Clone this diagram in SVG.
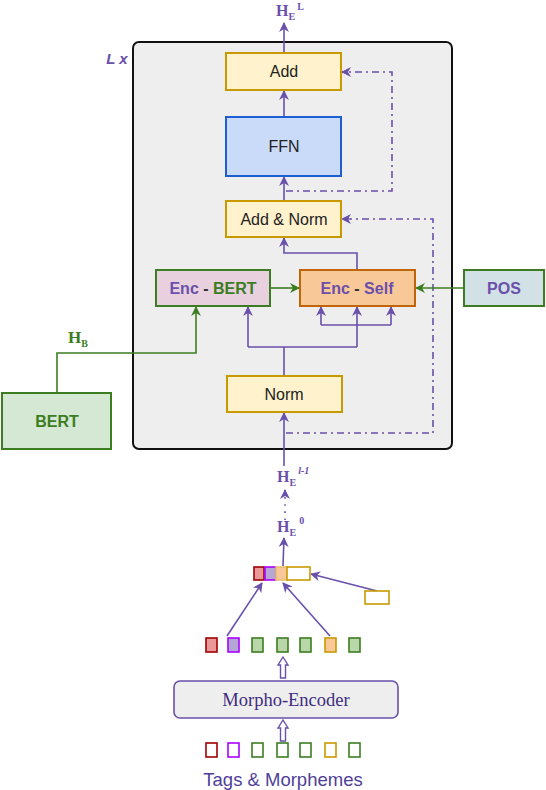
<svg xmlns="http://www.w3.org/2000/svg" width="546" height="790" viewBox="0 0 546 790">
<defs>
<style>
.box{stroke-width:2}
.gold{fill:#fff2cc;stroke:#c89a00}
.lbl{font-family:"Liberation Sans",Arial,sans-serif;font-size:16px;fill:#222;text-anchor:middle}
.bold{font-family:"Liberation Sans",Arial,sans-serif;font-size:16px;font-weight:bold;text-anchor:middle}
.pl{fill:none;stroke:#6a50aa;stroke-width:1.6}
.gl{fill:none;stroke:#3c7d22;stroke-width:1.6}
.dd{fill:none;stroke:#6a50aa;stroke-width:1.6;stroke-dasharray:7 4 2 4}
.hs{font-family:"Liberation Serif","Times New Roman",serif;font-weight:bold;fill:#6a50aa}
.tok{stroke-width:1.6}
.ha{fill:#fff;stroke:#6a50aa;stroke-width:1.4}
</style>
<marker id="ap" viewBox="0 0 10 10" refX="9" refY="5" markerWidth="10" markerHeight="10" markerUnits="userSpaceOnUse" orient="auto">
<path d="M0,0 L10,5 L0,10 L3,5 z" fill="#6a50aa"/>
</marker>
<marker id="ag" viewBox="0 0 10 10" refX="9" refY="5" markerWidth="10" markerHeight="10" markerUnits="userSpaceOnUse" orient="auto">
<path d="M0,0 L10,5 L0,10 L3,5 z" fill="#3c7d22"/>
</marker>
</defs>
<rect width="546" height="790" fill="#fff"/>

<g id="container">
<rect x="133" y="42" width="319" height="407" rx="6" fill="#eeeeee" stroke="#111" stroke-width="2"/>
<text x="117" y="64" font-family="Liberation Sans,Arial,sans-serif" font-size="15" font-style="italic" font-weight="bold" fill="#6a50aa" text-anchor="middle">L x</text>
</g>

<g id="connectors">
<path class="pl" d="M284,53 L284,23" marker-end="url(#ap)"/>
<path class="pl" d="M284,117 L284,91" marker-end="url(#ap)"/>
<path class="pl" d="M284,200 L284,177" marker-end="url(#ap)"/>
<path class="pl" d="M357,270 L357,253 L284,253 L284,238" marker-end="url(#ap)"/>
<path class="pl" d="M284,466 L284,413" marker-end="url(#ap)"/>
<path class="pl" d="M284,376 L284,347 M248,347 L357,347"/>
<path class="pl" d="M248,347 L248,307" marker-end="url(#ap)"/>
<path class="pl" d="M357,347 L357,307" marker-end="url(#ap)"/>
<path class="pl" d="M321,325 L391,325"/>
<path class="pl" d="M321,325 L321,307" marker-end="url(#ap)"/>
<path class="pl" d="M391,325 L391,307" marker-end="url(#ap)"/>
<path class="dd" d="M286,191 L392,191 L392,72 L342,72" marker-end="url(#ap)"/>
<path class="dd" d="M286,433 L433,433 L433,219 L342,219" marker-end="url(#ap)"/>
<path class="gl" d="M271,288 L299,288" marker-end="url(#ag)"/>
<path class="gl" d="M464,288 L416,288" marker-end="url(#ag)"/>
<path class="gl" d="M57,393 L57,353 L196,353 L196,307" marker-end="url(#ag)"/>
<path class="pl" d="M285,520 L285,490" stroke-dasharray="1.6 5.5" marker-end="url(#ap)"/>
<path class="pl" d="M283,566 L284,538" marker-end="url(#ap)"/>
<path class="pl" d="M227,636 L262,583" marker-end="url(#ap)"/>
<path class="pl" d="M330,636 L283,583" marker-end="url(#ap)"/>
<path class="pl" d="M377,591 L311,574" marker-end="url(#ap)"/>
<polygon class="ha" points="283,657 288,665 285.5,665 285.5,678 280.5,678 280.5,665 278,665"/>
<polygon class="ha" points="283,720 288,728 285.5,728 285.5,741 280.5,741 280.5,728 278,728"/>
</g>

<g id="add">
<rect class="box gold" x="226" y="53" width="115" height="37"/>
<text class="lbl" x="284" y="77">Add</text>
</g>
<g id="ffn">
<rect class="box" x="226" y="117" width="115" height="59" fill="#c9dbf8" stroke="#1d5fd3"/>
<text class="lbl" x="284" y="152">FFN</text>
</g>
<g id="addnorm">
<rect class="box gold" x="226" y="201" width="115" height="36"/>
<text class="lbl" x="284" y="225">Add &amp; Norm</text>
</g>
<g id="encbert">
<rect class="box" x="156" y="270" width="114" height="36" fill="#e8d0de" stroke="#3c7d22"/>
<text class="bold" x="213" y="294"><tspan fill="#6a50aa">Enc</tspan><tspan fill="#333"> - </tspan><tspan fill="#3c7d22">BERT</tspan></text>
</g>
<g id="encself">
<rect class="box" x="300" y="270" width="115" height="36" fill="#f9c899" stroke="#c0650a"/>
<text class="bold" x="357" y="294"><tspan fill="#6a50aa">Enc</tspan><tspan fill="#333"> - </tspan><tspan fill="#6a50aa">Self</tspan></text>
</g>
<g id="pos">
<rect class="box" x="464" y="270" width="80" height="36" fill="#d2e1e6" stroke="#3c7d22"/>
<text class="bold" x="504" y="294" fill="#6a50aa">POS</text>
</g>
<g id="bert">
<rect class="box" x="2" y="393" width="109" height="56" fill="#d5e8d4" stroke="#3c7d22"/>
<text class="bold" x="57" y="427" fill="#3c7d22">BERT</text>
</g>
<g id="norm">
<rect class="box gold" x="227" y="376" width="115" height="36"/>
<text class="lbl" x="284" y="400">Norm</text>
</g>
<g id="hb">
<text class="hs" x="68" y="343" font-size="17" style="fill:#3c7d22">H<tspan font-size="10" dy="4">B</tspan></text>
</g>
<g id="labels">
<text class="hs" x="276" y="16" font-size="16">H<tspan font-size="10" dy="4">E</tspan><tspan font-size="10" dx="2" dy="-10">L</tspan></text>
<text class="hs" x="277" y="482" font-size="16">H<tspan font-size="10" dy="4">E</tspan><tspan font-size="10" font-style="italic" dx="2" dy="-12">l-1</tspan></text>
<text class="hs" x="277" y="532" font-size="16">H<tspan font-size="10" dy="4">E</tspan><tspan font-size="10" dx="3" dy="-12">0</tspan></text>
</g>

<g id="tokenbar">
<rect class="tok" x="254" y="567" width="10" height="13" fill="#ea9999" stroke="#a00000"/>
<rect class="tok" x="265" y="567" width="11" height="13" fill="#b4a7d6" stroke="#aa00ff"/>
<rect class="tok" x="276" y="567" width="11" height="13" fill="#f9c899" stroke="#e8c070"/>
<rect class="tok" x="287" y="567" width="23" height="13" fill="#fff" stroke="#c89a00"/>
<rect class="tok" x="365" y="591" width="24" height="13" fill="#fff" stroke="#c89a00"/>
</g>

<g id="tokens-top">
<rect class="tok" x="206" y="638" width="11" height="14" fill="#ea9999" stroke="#a00000"/>
<rect class="tok" x="228" y="638" width="11" height="14" fill="#b4a7d6" stroke="#aa00ff"/>
<rect class="tok" x="252" y="638" width="11" height="14" fill="#b9d7a8" stroke="#3c7d22"/>
<rect class="tok" x="277" y="638" width="11" height="14" fill="#b9d7a8" stroke="#3c7d22"/>
<rect class="tok" x="300" y="638" width="11" height="14" fill="#b9d7a8" stroke="#3c7d22"/>
<rect class="tok" x="325" y="638" width="11" height="14" fill="#f9c899" stroke="#c89a00"/>
<rect class="tok" x="349" y="638" width="11" height="14" fill="#b9d7a8" stroke="#3c7d22"/>
</g>

<g id="morpho">
<rect x="174" y="681" width="224" height="37" rx="6" fill="#eeeeee" stroke="#6a50aa" stroke-width="1.6"/>
<text x="286" y="706" font-family="Liberation Serif,Times New Roman,serif" font-size="18.5" fill="#3d2c80" text-anchor="middle">Morpho-Encoder</text>
</g>

<g id="tokens-bottom">
<rect class="tok" x="206" y="743" width="11" height="14" fill="#fff" stroke="#a00000"/>
<rect class="tok" x="228" y="743" width="11" height="14" fill="#fff" stroke="#aa00ff"/>
<rect class="tok" x="252" y="743" width="11" height="14" fill="#fff" stroke="#3c7d22"/>
<rect class="tok" x="277" y="743" width="11" height="14" fill="#fff" stroke="#3c7d22"/>
<rect class="tok" x="300" y="743" width="11" height="14" fill="#fff" stroke="#3c7d22"/>
<rect class="tok" x="325" y="743" width="11" height="14" fill="#fff" stroke="#c89a00"/>
<rect class="tok" x="349" y="743" width="11" height="14" fill="#fff" stroke="#3c7d22"/>
<text x="283" y="786" font-family="Liberation Sans,Arial,sans-serif" font-size="18.5" fill="#4f3f98" text-anchor="middle">Tags &amp; Morphemes</text>
</g>
</svg>
